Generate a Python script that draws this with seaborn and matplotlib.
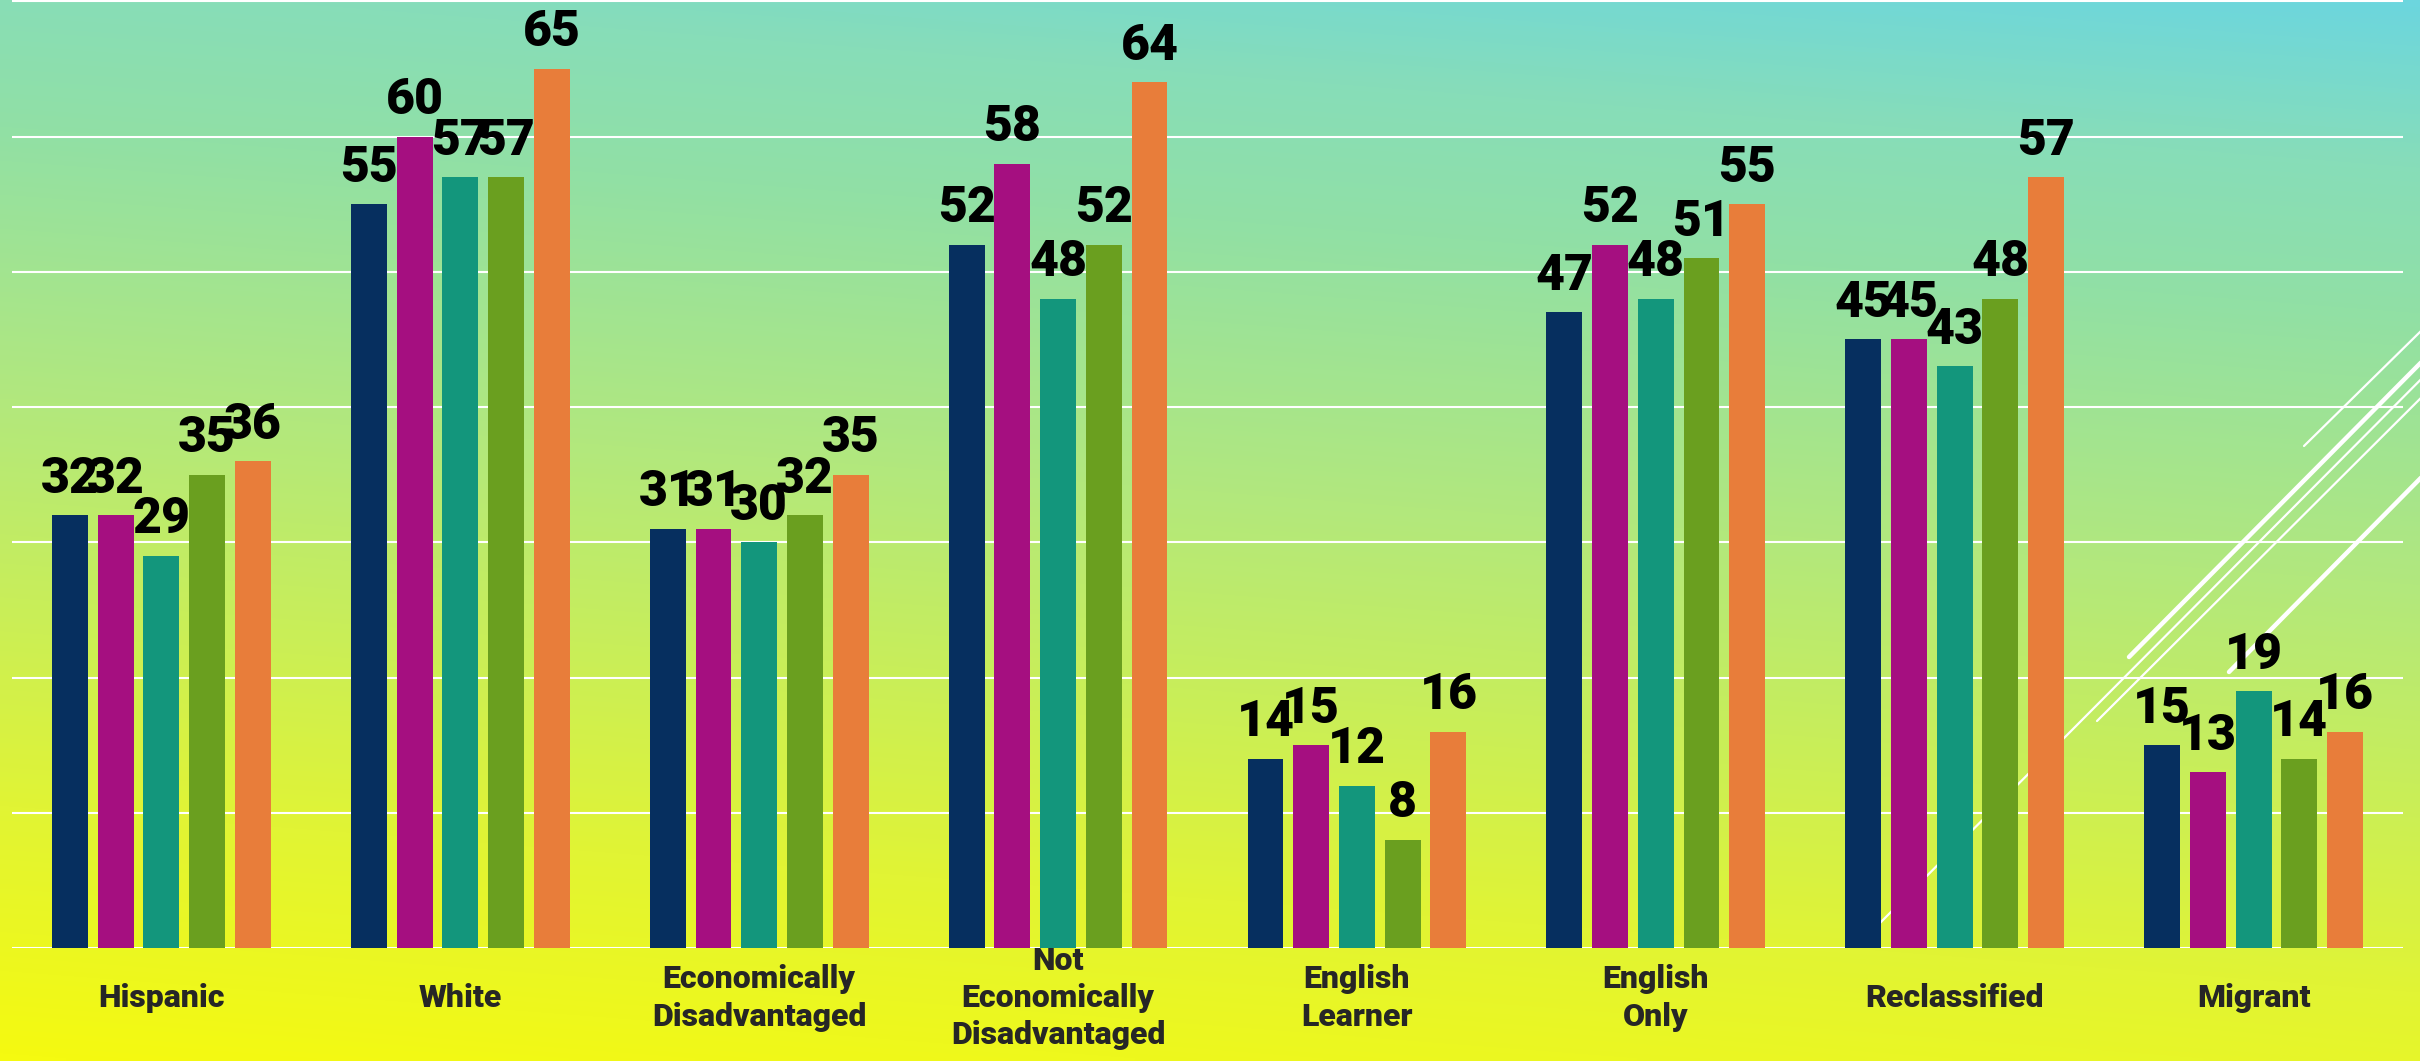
import numpy as np
import pandas as pd
import matplotlib.pyplot as plt
from matplotlib.colors import LinearSegmentedColormap
import seaborn as sns

# ---- data ----
groups = ["Hispanic", "White", "Economically Disadvantaged", "Not Economically Disadvantaged",
          "English Learner", "English Only", "Reclassified", "Migrant"]
group_labels = ["Hispanic", "White", "Economically\nDisadvantaged",
                "Not\nEconomically\nDisadvantaged", "English\nLearner",
                "English\nOnly", "Reclassified", "Migrant"]
series = ["Series 1", "Series 2", "Series 3", "Series 4", "Series 5"]
values_s1 = [32, 55, 31, 52, 14, 47, 45, 15]
values_s2 = [32, 60, 31, 58, 15, 52, 45, 13]
values_s3 = [29, 57, 30, 48, 12, 48, 43, 19]
values_s4 = [35, 57, 32, 52, 8, 51, 48, 14]
values_s5 = [36, 65, 35, 64, 16, 55, 57, 16]
colors = ["#062f5f", "#a50f80", "#13967c", "#6a9f1f", "#e87d3a"]

sns.set_theme(style="white")
plt.rcParams['font.family'] = ['Roboto', 'DejaVu Sans']

rows = []
for name, vals in zip(series, [values_s1, values_s2, values_s3, values_s4, values_s5]):
    for g, v in zip(groups, vals):
        rows.append({"group": g, "series": name, "score": v})
df = pd.DataFrame(rows)

W, H = 2420, 1061
fig = plt.figure(figsize=(W / 100, H / 100), dpi=100)

# background gradient (slide backdrop)
bg = fig.add_axes([0, 0, 1, 1], zorder=-1)
stops = [(0.0, (245, 250, 16)), (0.2, (225, 244, 52)), (0.37, (200, 238, 90)),
         (0.53, (178, 232, 125)), (0.75, (145, 224, 165)), (0.87, (135, 221, 185)),
         (0.95, (118, 217, 208)), (1.0, (108, 214, 222))]
cmap = LinearSegmentedColormap.from_list("bg", [(t, tuple(c / 255 for c in rgb)) for t, rgb in stops])
xx, yy = np.meshgrid(np.linspace(0, 1, 400), np.linspace(0, 1, 200))
tt = (1 - yy) * 0.85 + xx * 0.15
bg.imshow(tt, cmap=cmap, vmin=0, vmax=1, extent=[0, W, H, 0], aspect='auto', interpolation='bilinear')
# decorative diagonal strokes on the right
for (x0, y0, x1, y1, lw) in [(2304, 446, 2480, 273, 1.6), (2129, 657, 2480, 303, 3.2),
                             (1878, 925, 2480, 320, 1.6), (2097, 721, 2480, 339, 1.6),
                             (2229, 672, 2480, 418, 3.2)]:
    bg.plot([x0, x1], [y0, y1], color="white", lw=lw, solid_capstyle='round')
bg.set_xlim(0, W)
bg.set_ylim(H, 0)
bg.axis('off')

ax = fig.add_axes([12 / W, (H - 948) / H, (2403 - 12) / W, 948 / H])
ax.set_facecolor('none')
sns.barplot(data=df, x="group", y="score", hue="series", palette=colors, saturation=1,
            width=0.765, gap=0.215, legend=False, linewidth=0, ax=ax)

for cont in ax.containers:
    ax.bar_label(cont, padding=9, fontsize=36, fontweight='heavy', color='black')

ax.set_ylim(0, 70.1)
ax.set_xlim(-0.5, len(groups) - 0.5)
ax.set_yticks(range(0, 71, 10))
ax.set_yticklabels([])
ax.yaxis.grid(True, color='white', linewidth=1.5)
ax.set_axisbelow(True)
ax.set_xticks(range(len(groups)))
ax.set_xticklabels(group_labels, fontsize=23, fontweight='heavy', linespacing=1.3)
for lab in ax.get_xticklabels():
    lab.set_verticalalignment('center')
ax.tick_params(axis='x', length=0, pad=36)
ax.tick_params(axis='y', length=0)
ax.set_xlabel("")
ax.set_ylabel("")
sns.despine(ax=ax, left=True, bottom=True)

fig.savefig("out.png", dpi=100)
